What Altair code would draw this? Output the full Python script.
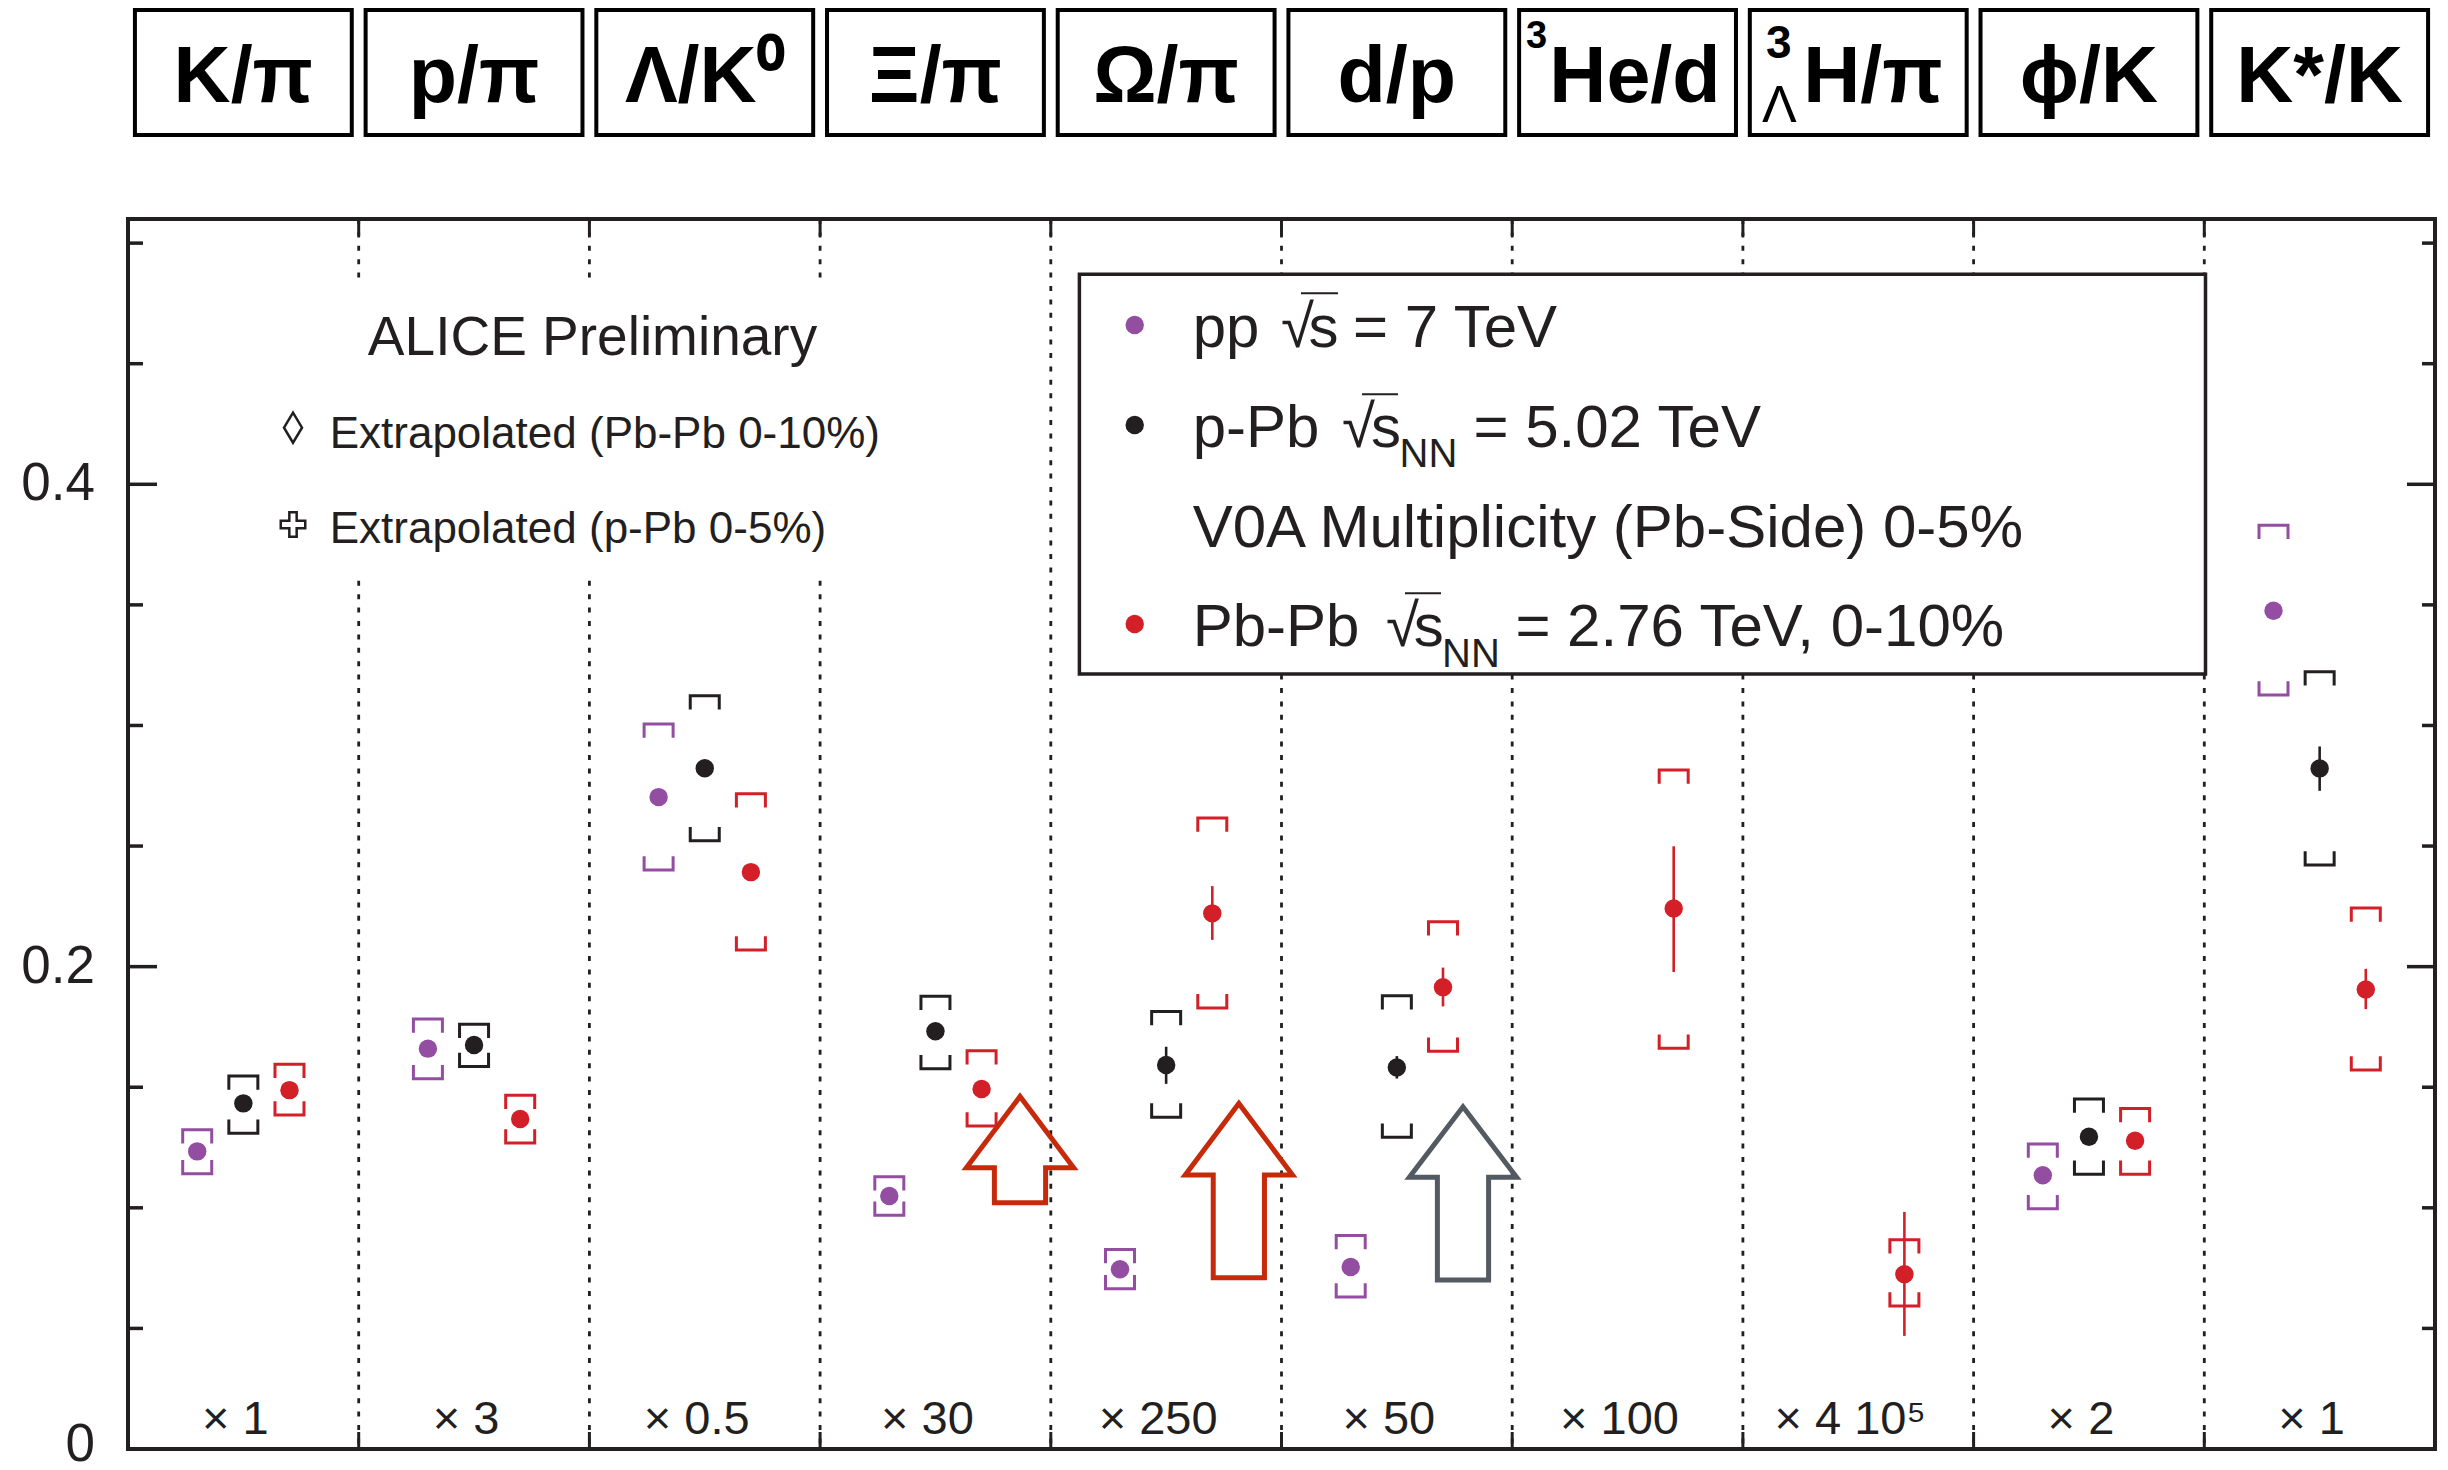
import altair as alt
import pandas as pd

# ---------------- data ----------------
categories = ["K/π", "p/π", "Λ/K⁰", "Ξ/π", "Ω/π", "d/p", "He/d", "H/π", "ϕ/K", "K*/K"]
head_shift = [0, 0, 0, 0, 0, 0, 0.032, 0.064, 0, 0]
scale_labels = ["× 1", "× 3", "× 0.5", "× 30", "× 250", "× 50", "× 100", "× 4 10⁵", "× 2", "× 1"]

systems = ["pp", "pPb", "PbPb"]
sys_offset = [-0.2, 0.0, 0.2]
sys_colors = ["#944ea1", "#231f20", "#d32028"]

pp_val    = [0.1234, 0.1660, 0.2703, 0.1049, 0.0745, 0.0755, None, None, 0.1135, 0.3476]
pp_syslo  = [0.1141, 0.1535, 0.2401, 0.0969, 0.0664, 0.0630, None, None, 0.0996, 0.3126]
pp_syshi  = [0.1324, 0.1783, 0.3006, 0.1129, 0.0827, 0.0885, None, None, 0.1265, 0.3830]
pp_statlo = [None] * 10
pp_stathi = [None] * 10

ppb_val    = [0.1433, 0.1675, 0.2823, 0.1732, 0.1592, 0.1582, None, None, 0.1295, 0.2822]
ppb_syslo  = [0.1309, 0.1586, 0.2522, 0.1577, 0.1376, 0.1293, None, None, 0.1139, 0.2421]
ppb_syshi  = [0.1547, 0.1761, 0.3123, 0.1877, 0.1814, 0.1879, None, None, 0.1451, 0.3223]
ppb_statlo = [None, None, None, None, 0.1514, 0.1536, None, None, None, 0.2729]
ppb_stathi = [None, None, None, None, 0.1668, 0.1629, None, None, None, 0.2913]

pbpb_val    = [0.1488, 0.1368, 0.2392, 0.1493, 0.2221, 0.1915, 0.2241, 0.0725, 0.1278, 0.1905]
pbpb_syslo  = [0.1385, 0.1269, 0.2069, 0.1339, 0.1829, 0.1649, 0.1662, 0.0593, 0.1139, 0.1571]
pbpb_syshi  = [0.1595, 0.1467, 0.2717, 0.1651, 0.2616, 0.2186, 0.2815, 0.0868, 0.1412, 0.2243]
pbpb_statlo = [None, None, None, None, 0.2111, 0.1835, 0.1978, 0.0469, None, 0.1824]
pbpb_stathi = [None, None, None, None, 0.2334, 0.1996, 0.2499, 0.0983, None, 0.1991]

# arrows (annotations): center (category units), tip / head-base / bottom values
arrow_center = [3.8665, 4.8151, 5.7867]
arrow_tip    = [0.1462, 0.1433, 0.1419]
arrow_base   = [0.1166, 0.1136, 0.1127]
arrow_bottom = [0.1021, 0.0710, 0.0701]
arrow_color  = ["#c62a0b", "#c62a0b", "#545a61"]

ytick_values = [0, 0.05, 0.1, 0.15, 0.2, 0.25, 0.3, 0.35, 0.4, 0.45, 0.5]
ytick_major = [0, 0.2, 0.4]
ylabel_values = [0.2, 0.4]
ylabel_texts = ["0.2", "0.4"]
dividers = [1, 2, 3, 4, 5, 6, 7, 8, 9]

# ---------------- geometry ----------------
W, H = 2307, 1230
YMAX = 0.51
PADL, PADT = 128, 219
INK = "#231f20"
FONT = "Liberation Sans"


def X(px):
    return (px - PADL) / W * 10.0


def Y(py):
    return (PADT + H - py) / H * YMAX


xs = alt.Scale(domain=[0, 10], nice=False, zero=False)
ys = alt.Scale(domain=[0, YMAX], nice=False, zero=False)


def ex(f):
    return alt.X(f, type="quantitative", scale=xs, axis=None)


def ey(f):
    return alt.Y(f, type="quantitative", scale=ys, axis=None)


def text_layer(d, size, align="left", weight="normal", color=INK, dx=0, dy=0, baseline="alphabetic"):
    return alt.Chart(d).mark_text(font=FONT, fontSize=size, fontWeight=weight, align=align, dx=dx, dy=dy,
                                  baseline=baseline, color=color).encode(x=ex("x"), y=ey("y"), text="t:N")


color_enc = alt.Color("system:N", scale=alt.Scale(domain=systems, range=sys_colors), legend=None)

series = {
    "pp": (pp_val, pp_syslo, pp_syshi, pp_statlo, pp_stathi),
    "pPb": (ppb_val, ppb_syslo, ppb_syshi, ppb_statlo, ppb_stathi),
    "PbPb": (pbpb_val, pbpb_syslo, pbpb_syshi, pbpb_statlo, pbpb_stathi),
}
rows = []
for s, off in zip(systems, sys_offset):
    val, lo, hi, slo, shi = series[s]
    for i, c in enumerate(categories):
        if val[i] is None:
            continue
        rows.append(dict(system=s, cat=c, x=i + 0.5 + off, v=val[i], lo=lo[i], hi=hi[i],
                         slo=slo[i], shi=shi[i]))
df = pd.DataFrame(rows)
df_stat = df.dropna(subset=["slo"])

layers = []

# dotted category dividers
df_div = pd.DataFrame({"d": dividers})
layers.append(alt.Chart(df_div).mark_rule(color=INK, strokeWidth=2.8, strokeDash=[5, 8.4]).encode(x=ex("d")))
layers.append(alt.Chart(df_div).mark_rule(color=INK, strokeWidth=3).encode(
    x=ex("d"), y=alt.value(0), y2=alt.value(17)))
layers.append(alt.Chart(df_div).mark_rule(color=INK, strokeWidth=3).encode(
    x=ex("d"), y=alt.value(H - 17), y2=alt.value(H)))

# white areas behind texts
df_cover = pd.DataFrame([dict(x1=X(300), x2=X(900), y1=Y(278), y2=Y(579))])
layers.append(alt.Chart(df_cover).mark_rect(fill="white").encode(
    x=ex("x1"), x2="x2", y=ey("y1"), y2="y2"))
df_legbox = pd.DataFrame([dict(x1=X(1079.4), x2=X(2205.5), y1=Y(274.3), y2=Y(674))])
layers.append(alt.Chart(df_legbox).mark_rect(fill="white", stroke=INK, strokeWidth=3.5).encode(
    x=ex("x1"), x2="x2", y=ey("y1"), y2="y2"))

# y ticks, both sides (inward)
trows = []
for v in ytick_values:
    L = 29 if v in ytick_major else 15
    R = 28 if v in ytick_major else 13
    trows.append(dict(y=v, x1=0, x2=L / W * 10))
    trows.append(dict(y=v, x1=10 - R / W * 10, x2=10))
df_t = pd.DataFrame(trows)
layers.append(alt.Chart(df_t).mark_rule(color=INK, strokeWidth=3.5).encode(
    x=ex("x1"), x2="x2", y=ey("y")))

# y tick labels
df_yl = pd.DataFrame({"y": ylabel_values, "t": ylabel_texts})
df_yl["x"] = X(95)
layers.append(text_layer(df_yl, 53, align="right", baseline="middle"))
df_y0 = pd.DataFrame({"y": [0], "t": ["0"], "x": [X(95)]})
layers.append(text_layer(df_y0, 53, align="right", baseline="middle", dy=-4))

# systematic brackets
top_path = "M-1,0.95L-1,0L1,0L1,0.95"
bot_path = "M-1,-0.95L-1,0L1,0L1,-0.95"
layers.append(alt.Chart(df).mark_point(shape=top_path, size=841, filled=False, strokeWidth=3, opacity=1).encode(
    x=ex("x"), y=ey("hi"), color=color_enc))
layers.append(alt.Chart(df).mark_point(shape=bot_path, size=841, filled=False, strokeWidth=3, opacity=1).encode(
    x=ex("x"), y=ey("lo"), color=color_enc))

# statistical errors
layers.append(alt.Chart(df_stat).mark_rule(strokeWidth=2.6).encode(
    x=ex("x"), y=ey("slo"), y2="shi", color=color_enc))

# data points
layers.append(alt.Chart(df).mark_circle(size=340, opacity=1).encode(
    x=ex("x"), y=ey("v"), color=color_enc))

# arrows
arows = []
for k in range(len(arrow_center)):
    c, t, b, bt = arrow_center[k], arrow_tip[k], arrow_base[k], arrow_bottom[k]
    hh, hs = 0.2325, 0.111
    pts = [(c, bt), (c + hs, bt), (c + hs, b), (c + hh, b), (c, t), (c - hh, b), (c - hs, b), (c - hs, bt), (c, bt)]
    for j, (px_, py_) in enumerate(pts):
        arows.append(dict(arrow=k, o=j, x=px_, y=py_, col=arrow_color[k]))
df_arrow = pd.DataFrame(arows)
layers.append(alt.Chart(df_arrow).mark_line(strokeWidth=5, strokeJoin="miter").encode(
    x=ex("x"), y=ey("y"), order="o:Q", detail="arrow:N", color=alt.Color("col:N", scale=None)))

# header boxes
df_hbox = pd.DataFrame([dict(x1=i + 0.03, x2=i + 0.97, y1=Y(10), y2=Y(135)) for i in range(10)])
layers.append(alt.Chart(df_hbox).mark_rect(fill="white", stroke="black", strokeWidth=4).encode(
    x=ex("x1"), x2="x2", y=ey("y1"), y2="y2"))
df_htext = pd.DataFrame([dict(x=i + 0.5 + head_shift[i], y=Y(101.7), t=c) for i, c in enumerate(categories)])
layers.append(text_layer(df_htext, 79, align="center", weight="bold", color="black"))
layers.append(text_layer(pd.DataFrame([dict(x=X(1526), y=Y(47.5), t="3")]), 38, weight="bold", color="black"))
layers.append(text_layer(pd.DataFrame([dict(x=X(1766), y=Y(57.5), t="3")]), 46, weight="bold", color="black"))
layers.append(text_layer(pd.DataFrame([dict(x=X(1762), y=Y(121.7), t="Λ")]), 52, color="black"))

# multiplication factors at the bottom
df_scl = pd.DataFrame([dict(x=i + 0.5, y=Y(1434), t=s) for i, s in enumerate(scale_labels)])
layers.append(text_layer(df_scl, 47, align="center", dx=-8))

# left annotation
layers.append(text_layer(pd.DataFrame([dict(x=X(592.5), y=Y(355), t="ALICE Preliminary")]), 55, align="center"))
df_extra = pd.DataFrame([dict(x=X(329.7), y=Y(447.8), t="Extrapolated (Pb-Pb 0-10%)"),
                         dict(x=X(329.7), y=Y(542.9), t="Extrapolated (p-Pb 0-5%)")])
layers.append(text_layer(df_extra, 44))
df_dia = pd.DataFrame([dict(x=X(293), y=Y(427.7))])
layers.append(alt.Chart(df_dia).mark_point(shape="M0,-1L0.6,0L0,1L-0.6,0Z", size=900, filled=False,
                                           strokeWidth=2.5, color=INK, opacity=1).encode(x=ex("x"), y=ey("y")))
df_crs = pd.DataFrame([dict(x=X(293), y=Y(524.5))])
layers.append(alt.Chart(df_crs).mark_point(shape="M-0.3,-1L0.3,-1L0.3,-0.3L1,-0.3L1,0.3L0.3,0.3L0.3,1L-0.3,1L-0.3,0.3L-1,0.3L-1,-0.3L-0.3,-0.3Z",
                                           size=600, filled=False,
                                           strokeWidth=2.5, color=INK, opacity=1).encode(x=ex("x"), y=ey("y")))

# legend
df_ldot = pd.DataFrame([dict(x=X(1134.7), y=Y(325), system="pp"),
                        dict(x=X(1134.7), y=Y(425), system="pPb"),
                        dict(x=X(1134.7), y=Y(624), system="PbPb")])
layers.append(alt.Chart(df_ldot).mark_circle(size=340, opacity=1).encode(x=ex("x"), y=ey("y"), color=color_enc))

ltext = [
    (1192.7, 347.3, "pp"), (1281, 347.3, "√"), (1308.6, 347.3, "s"), (1353, 347.3, "= 7 TeV"),
    (1192.7, 446.7, "p-Pb"), (1342, 446.7, "√"), (1371, 446.7, "s"), (1473.5, 446.7, "= 5.02 TeV"),
    (1192.7, 546.7, "V0A Multiplicity (Pb-Side) 0-5%"),
    (1192.7, 646, "Pb-Pb"), (1386, 646, "√"), (1413.8, 646, "s"), (1515.4, 646, "= 2.76 TeV, 0-10%"),
]
df_lt = pd.DataFrame([dict(x=X(a), y=Y(b), t=c) for a, b, c in ltext])
layers.append(text_layer(df_lt, 60))
df_nn = pd.DataFrame([dict(x=X(1399.5), y=Y(466.7), t="NN"), dict(x=X(1442), y=Y(666.7), t="NN")])
layers.append(text_layer(df_nn, 40))
df_ov = pd.DataFrame([dict(x1=X(1301), x2=X(1338), y=Y(293.3)),
                      dict(x1=X(1362), x2=X(1398), y=Y(394.3)),
                      dict(x1=X(1405), x2=X(1441), y=Y(593.3))])
layers.append(alt.Chart(df_ov).mark_rule(color=INK, strokeWidth=2).encode(
    x=ex("x1"), x2="x2", y=ey("y")))

chart = alt.layer(*layers).properties(
    width=W, height=H,
    padding={"left": PADL, "top": PADT, "right": 2448 - PADL - W, "bottom": 1470 - PADT - H},
    autosize=alt.AutoSizeParams(type="none"),
    background="white",
).configure_view(stroke=INK, strokeWidth=4)

chart.save("out.html", embed_options={"renderer": "svg", "actions": False})
